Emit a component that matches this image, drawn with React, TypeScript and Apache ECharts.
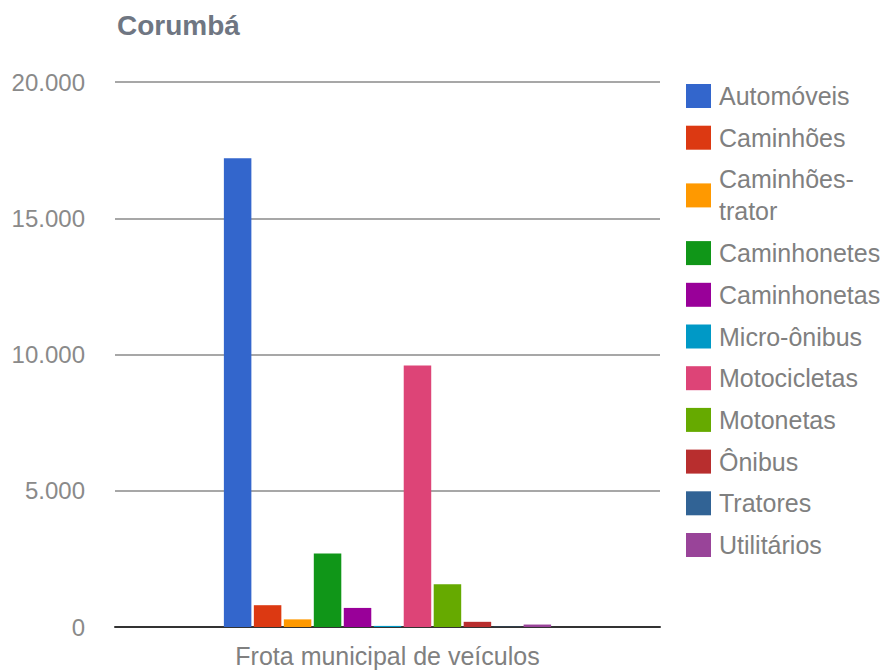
import React, { useEffect, useRef } from "react";
import * as echarts from "echarts";

const categories = ["Frota municipal de veículos"];
const seriesNames = [
  "Automóveis",
  "Caminhões",
  "Caminhões-trator",
  "Caminhonetes",
  "Caminhonetas",
  "Micro-ônibus",
  "Motocicletas",
  "Motonetas",
  "Ônibus",
  "Tratores",
  "Utilitários",
];
const seriesValues = [17200, 800, 280, 2700, 700, 40, 9600, 1570, 190, 10, 90];
const seriesColors = [
  "#3366cc",
  "#dc3912",
  "#ff9900",
  "#109618",
  "#990099",
  "#0099c6",
  "#dd4477",
  "#66aa00",
  "#b82e2e",
  "#316395",
  "#994499",
];
const yTicks = [0, 5000, 10000, 15000, 20000];

const FONT = "'Liberation Sans', Arial, Helvetica, sans-serif";

export default function App() {
  const ref = useRef<HTMLDivElement>(null);
  useEffect(() => {
    if (!ref.current) return;
    const chart = echarts.init(ref.current, null, { renderer: "svg" });
    const fmt = (v: number) =>
      String(v).replace(/\B(?=(\d{3})+(?!\d))/g, ".");
    chart.setOption({
      animation: false,
      backgroundColor: "#ffffff",
      title: {
        text: "Corumbá",
        left: 117,
        top: 11,
        padding: 0,
        textStyle: {
          fontFamily: FONT,
          fontSize: 28,
          fontWeight: "bold",
          color: "#6f7682",
        },
      },
      legend: {
        orient: "vertical",
        left: 686,
        top: 80,
        padding: 0,
        itemWidth: 25,
        itemHeight: 24,
        itemGap: 9.7,
        icon: "rect",
        data: seriesNames,
        formatter: (name: string) =>
          name === "Caminhões-trator" ? "Caminhões-\ntrator" : name,
        textStyle: {
          fontFamily: FONT,
          fontSize: 25,
          color: "#808080",
          lineHeight: 32,
          padding: [0, 0, 0, 3],
        },
      },
      grid: {
        left: 115,
        right: 229,
        top: 82,
        bottom: 43,
        containLabel: false,
      },
      xAxis: {
        type: "category",
        data: categories,
        axisLine: { show: true, lineStyle: { color: "#333333", width: 2 } },
        axisTick: { show: false },
        axisLabel: {
          fontFamily: FONT,
          fontSize: 25,
          color: "#808080",
          margin: 16,
        },
      },
      yAxis: {
        type: "value",
        min: yTicks[0],
        max: yTicks[yTicks.length - 1],
        interval: 5000,
        axisLine: { show: false },
        axisTick: { show: false },
        splitLine: { lineStyle: { color: "#8a8a8a", width: 1.5 } },
        axisLabel: {
          fontFamily: FONT,
          fontSize: 24,
          color: "#8a8a8a",
          margin: 30,
          formatter: (v: number) => fmt(v),
        },
      },
      series: seriesNames.map((name, i) => ({
        name,
        type: "bar",
        data: [seriesValues[i]],
        barWidth: 27.5,
        barGap: "9%",
        itemStyle: { color: seriesColors[i] },
      })),
    });
    return () => chart.dispose();
  }, []);
  return (
    <div
      ref={ref}
      style={{ position: "fixed", left: 0, top: 0, width: 889, height: 670 }}
    />
  );
}
